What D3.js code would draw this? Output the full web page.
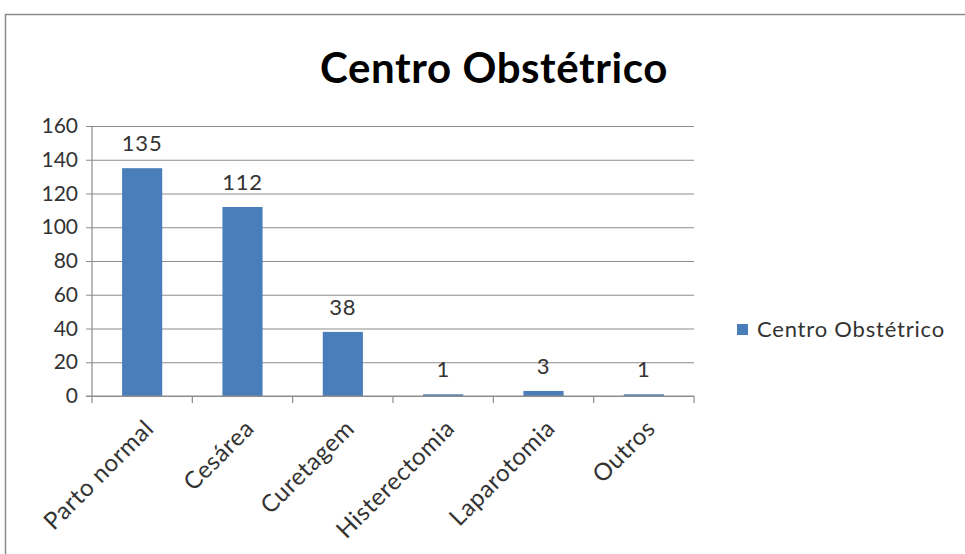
<!DOCTYPE html>
<html>
<head>
<meta charset="utf-8">
<script src="https://cdn.jsdelivr.net/npm/d3@7"></script>
<style>
  html, body { margin: 0; padding: 0; background: #fff; }
  svg { display: block; font-family: Lato, "Open Sans", sans-serif; }
</style>
</head>
<body>
<svg id="chart" width="965" height="554"></svg>
<script>
// Procedures performed in the obstetric centre
const categories = ["Parto normal", "Cesárea", "Curetagem", "Histerectomia", "Laparotomia", "Outros"];
const values = [135, 112, 38, 1, 3, 1];
const yTicks = [0, 20, 40, 60, 80, 100, 120, 140, 160];
const seriesName = "Centro Obstétrico";
const chartTitle = "Centro Obstétrico";

const svg = d3.select("#chart");
const plot = { left: 92, right: 694, top: 126, bottom: 396 };
const textColor = "#333";
const barColor = "#4a7ebb";
const gridColor = "#8c8c8c";

// chart frame
svg.append("rect")
  .attr("x", 5.5).attr("y", 14.5)
  .attr("width", 1000).attr("height", 600)
  .attr("fill", "#fff").attr("stroke", "#8a8a8a").attr("stroke-width", 1.5);

// title
svg.append("text")
  .attr("x", 494).attr("y", 83)
  .attr("text-anchor", "middle")
  .attr("font-size", 42).attr("font-weight", "bold")
  .attr("letter-spacing", 0.6)
  .attr("fill", "#000")
  .text(chartTitle);

const x = d3.scaleBand().domain(categories).range([plot.left, plot.right]).paddingInner(0.6).paddingOuter(0.3);
const y = d3.scaleLinear().domain([0, 160]).range([plot.bottom, plot.top]);

// gridlines + y axis
const yAxis = d3.axisLeft(y).tickValues(yTicks).tickSize(-(plot.right - plot.left)).tickPadding(14).tickFormat(d3.format("d"));
const gy = svg.append("g").attr("transform", `translate(${plot.left},0)`).call(yAxis);
gy.select(".domain").remove();
gy.selectAll(".tick line").attr("stroke", gridColor).attr("stroke-width", 1.2).attr("x1", -6);
gy.selectAll(".tick text").attr("font-size", 21).attr("fill", textColor).attr("font-family", "Lato, sans-serif");
svg.append("line")
  .attr("x1", plot.left).attr("x2", plot.left)
  .attr("y1", plot.top).attr("y2", plot.bottom)
  .attr("stroke", gridColor).attr("stroke-width", 1.2);

// bars
svg.append("g").selectAll("rect")
  .data(values)
  .join("rect")
  .attr("x", (d, i) => x(categories[i]))
  .attr("y", d => y(d))
  .attr("width", x.bandwidth())
  .attr("height", d => y(0) - y(d))
  .attr("fill", barColor);

// x axis baseline with ticks at category boundaries
const boundaries = d3.range(categories.length + 1).map(i => plot.left + i * (plot.right - plot.left) / categories.length);
svg.append("line")
  .attr("x1", plot.left - 6).attr("x2", plot.right)
  .attr("y1", plot.bottom).attr("y2", plot.bottom)
  .attr("stroke", gridColor).attr("stroke-width", 1.2);
svg.append("g").selectAll("line")
  .data(boundaries)
  .join("line")
  .attr("x1", d => d).attr("x2", d => d)
  .attr("y1", plot.bottom).attr("y2", plot.bottom + 7)
  .attr("stroke", gridColor).attr("stroke-width", 1.2);

// value labels
svg.append("g").selectAll("text")
  .data(values)
  .join("text")
  .attr("x", (d, i) => x(categories[i]) + x.bandwidth() / 2)
  .attr("y", d => y(d) - 17)
  .attr("text-anchor", "middle")
  .attr("font-size", 22)
  .attr("letter-spacing", 0.8)
  .attr("fill", textColor)
  .text(d => d);

// rotated category labels
svg.append("g").selectAll("text")
  .data(categories)
  .join("text")
  .attr("transform", d => `translate(${x(d) + x.bandwidth() / 2 + 13},${plot.bottom + 34}) rotate(-45)`)
  .attr("text-anchor", "end")
  .attr("font-size", 24)
  .attr("letter-spacing", 0.6)
  .attr("fill", textColor)
  .text(d => d);

// legend
const lg = svg.append("g").attr("transform", "translate(737,324)");
lg.append("rect").attr("width", 11).attr("height", 11).attr("fill", barColor);
lg.append("text").attr("x", 20).attr("y", 13).attr("font-size", 22).attr("letter-spacing", 0.8).attr("fill", textColor).text(seriesName);
</script>
</body>
</html>
